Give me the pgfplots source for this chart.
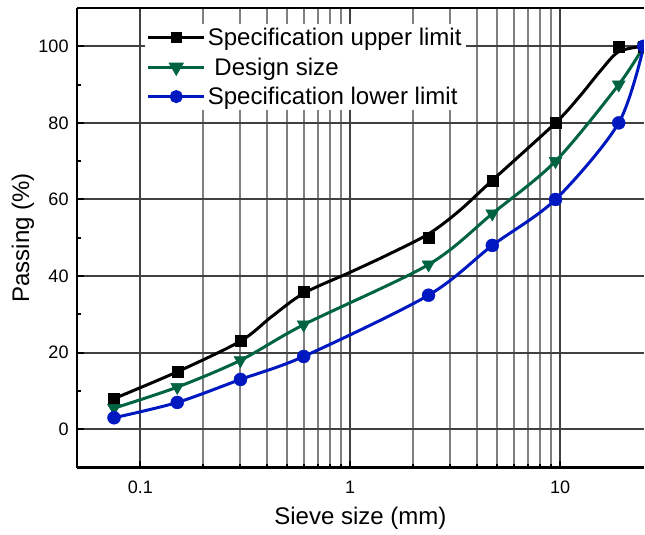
\documentclass[border=0pt]{standalone}
\usepackage{fontspec}
\setmainfont{Liberation Sans}
\usepackage{pgfplots}
\pgfplotsset{compat=1.18}
\definecolor{upper}{RGB}{0,0,0}
\definecolor{design}{RGB}{0,100,66}
\definecolor{lower}{RGB}{0,24,192}
\begin{document}
\begin{tikzpicture}
\begin{axis}[
    name=ax,
    scale only axis,
    width=566pt, height=459pt,
    xmode=log,
    xmin=0.05, xmax=25,
    ymin=-10, ymax=110,
    clip marker paths=true,
    axis x line*=bottom, axis y line*=left,
    axis line style={line width=2.5pt, -},
    tick align=inside,
    major tick length=7pt, minor tick length=4pt,
    every tick/.style={black, line width=2pt},
    ytick={0,20,40,60,80,100},
    minor y tick num=1,
    xtick={0.1,1,10},
    xticklabels={0.1,1,10},
    xmajorgrids, xminorgrids, ymajorgrids,
    major grid style={draw=black!75, line width=2pt},
    minor grid style={draw=black!50, line width=2pt},
    /pgf/number format/assume math mode=true,
    tick label style={font=\fontsize{18}{21}\selectfont},
    xticklabel style={yshift=-10pt},
    yticklabel style={xshift=-5pt},
    xlabel={Sieve size (mm)},
    ylabel={Passing (\%)},
    every axis x label/.style={at={(rel axis cs:0.5,0)}, yshift=-51pt, anchor=center,
        font=\fontsize{24}{27}\selectfont},
    every axis y label/.style={at={(rel axis cs:0,0.5)}, xshift=-54pt, rotate=90, anchor=center,
        font=\fontsize{24}{27}\selectfont},
    legend style={
        at={(rel axis cs:0.119,0.965)}, anchor=north west,
        draw=none, fill=white,
        font=\fontsize{24}{26}\selectfont,
        inner xsep=2pt, inner ysep=2pt,
        row sep=6.5pt,
    },
    legend cell align=left,
    legend image code/.code={
        \draw[mark repeat=2, mark phase=2, #1] plot coordinates {(0pt,0pt) (28pt,0pt) (56pt,0pt)};
    },
]
\addlegendimage{upper, line width=3pt, mark=square*, mark size=4pt, mark options={solid}}
\addlegendimage{design, line width=3pt, mark=triangle*, mark size=6pt, mark options={solid, rotate=180}}
\addlegendimage{lower, line width=3pt, mark=*, mark size=5pt, mark options={solid}}
% curves
\addplot[upper, line width=3pt, smooth, forget plot]
    coordinates {(0.075,8) (0.15,15) (0.3,23) (0.42,29.3) (0.6,35.5) (1,41) (1.5,45.5) (2.36,51) (3.3,57) (4.75,65) (9.5,80) (12.5,87.2) (15.5,93.5) (19,98.6) (25,100)};
\addplot[design, line width=3pt, smooth, forget plot]
    coordinates {(0.075,5.5) (0.15,11) (0.3,18) (0.6,27.3) (2.36,43) (4.75,56.3) (9.5,70) (19,90) (25,100)};
\addplot[lower, line width=3pt, smooth, forget plot]
    coordinates {(0.075,3) (0.15,7) (0.3,13) (0.6,19) (2.36,35) (4.75,48) (9.5,60) (19,80) (25,100)};
% measured points
\addplot[upper, only marks, mark=square*, mark size=5.5pt, forget plot]
    coordinates {(0.075,8) (0.15,15) (0.3,23) (0.6,36) (2.36,50) (4.75,65) (9.5,80) (19,100) (25,100)};
\addplot[design, only marks, mark=triangle*, mark size=7.5pt, mark options={rotate=180}, forget plot]
    coordinates {(0.075,5.5) (0.15,11) (0.3,18) (0.6,27.3) (2.36,43) (4.75,56.3) (9.5,70) (19,90) (25,100)};
\addplot[lower, only marks, mark=*, mark size=6.5pt, forget plot]
    coordinates {(0.075,3) (0.15,7) (0.3,13) (0.6,19) (2.36,35) (4.75,48) (9.5,60) (19,80) (25,100)};
\legend{Specification upper limit, {\ Design size}, Specification lower limit}
\draw[line width=2.5pt] (rel axis cs:0,1) -- (rel axis cs:1,1);
\end{axis}
\path (ax.south west) ++(-77pt,-67pt);
\path (ax.north east) ++(0pt,8pt);
\end{tikzpicture}
\end{document}
